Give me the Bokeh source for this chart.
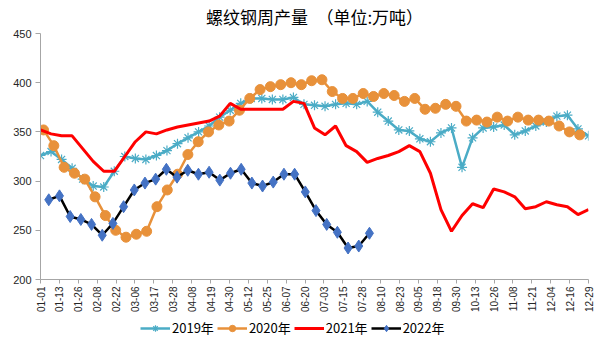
import math
from bokeh.plotting import figure
from bokeh.layouts import column
from bokeh.models import Range1d, FixedTicker, Legend, LegendItem
from bokeh.embed import file_html
from bokeh.resources import INLINE

# ---- data ----
tick_labels = ["01-01", "01-13", "01-26", "02-08", "02-22", "03-06", "03-17", "03-28",
               "04-08", "04-19", "04-30", "05-12", "05-25", "06-07", "06-20", "07-03",
               "07-15", "07-28", "08-10", "08-23", "09-05", "09-18", "09-30", "10-13",
               "10-26", "11-08", "11-21", "12-04", "12-16", "12-29"]
y_ticks = [200, 250, 300, 350, 400, 450]

y2019 = [326, 330, 322, 313, 302, 295, 294, 310, 325, 323, 322, 326, 331, 338, 344,
         350, 356, 365, 372, 379, 384, 384, 383, 383, 385, 378, 377, 376, 378, 379,
         378, 381, 370, 361, 352, 351, 343, 340, 349, 354, 314, 344, 354, 355, 357,
         347, 351, 356, 360, 366, 367, 353, 346]
y2020 = [352, 336, 314, 308, 302, 284, 265, 250, 243, 246, 249, 274, 291, 307, 327,
         340, 350, 357, 361, 372, 384, 393, 396, 398, 400, 398, 402, 403, 391, 384,
         384, 389, 386, 389, 387, 381, 384, 373, 374, 378, 376, 361, 362, 360, 365,
         361, 365, 362, 362, 361, 356, 350, 347]
y2021 = [352, 348, 346, 346, 333, 320, 310, 310, 325, 340, 350, 348, 352, 355, 357,
         359, 361, 366, 379, 373, 373, 373, 373, 373, 381, 379, 354, 347, 356, 336,
         330, 319, 323, 326, 330, 336, 330, 308, 271, 249, 265, 277, 273, 292, 289,
         284, 272, 274, 279, 276, 274, 266, 271]
y2022 = [281, 285, 264, 261, 256, 245, 257, 274, 291, 298, 302, 312, 304, 311, 307,
         309, 301, 308, 312, 298, 295, 299, 307, 307, 289, 270, 256, 248, 232, 234, 247]

series_names = ["2019年", "2020年", "2021年", "2022年"]

# ---- positions (day-of-year mapped onto label axis) ----
DAYS = 364.0
NLAB = len(tick_labels) - 1


def xpos(start_day, step_day, n):
    return [(start_day + step_day * i) / DAYS * NLAB for i in range(n)]


x2019 = xpos(0, 7.0, len(y2019))
x2020 = xpos(2, 6.85, len(y2020))
x2021 = xpos(0, 7.0, len(y2021))
x2022 = xpos(5.5, 7.1, len(y2022))

TEAL = "#4BACC6"
ORANGE = "#E8913A"
RED = "#FF0000"
BLUE = "#4472C4"

# ---- main chart ----
p = figure(frame_width=548, frame_height=246, output_backend="svg", toolbar_location=None,
           x_range=Range1d(0, NLAB), y_range=Range1d(200, 450),
           min_border_left=40, min_border_right=12, min_border_top=31,
           min_border_bottom=36)
p.outline_line_color = None
p.xgrid.visible = False
p.ygrid.visible = False
p.background_fill_color = "white"
p.border_fill_color = "white"

p.title.text = "螺纹钢周产量　（单位:万吨）"
p.title.text_font = "Noto Sans CJK SC"
p.title.text_font_size = "17px"
p.title.text_font_style = "normal"
p.title.text_color = "#000000"
p.title.align = "center"
p.title.offset = -9
p.title.standoff = 6
p.title.vertical_align = "top"

p.xaxis.ticker = FixedTicker(ticks=list(range(len(tick_labels))))
p.xaxis.major_label_overrides = {i: lab for i, lab in enumerate(tick_labels)}
p.xaxis.major_label_orientation = math.pi / 2
p.xaxis.major_label_text_font = "Liberation Sans"
p.xaxis.major_label_text_font_size = "10px"
p.xaxis.major_label_text_color = "#262626"
p.xaxis.major_label_standoff = 3
p.xaxis.minor_tick_line_color = None
p.xaxis.major_tick_in = 0
p.xaxis.major_tick_out = 4
p.xaxis.axis_line_color = "#A6A6A6"
p.xaxis.major_tick_line_color = "#A6A6A6"
p.xaxis.axis_label_standoff = 0

p.yaxis.ticker = FixedTicker(ticks=y_ticks)
p.yaxis.major_label_text_font = "Liberation Sans"
p.yaxis.major_label_text_font_size = "11px"
p.yaxis.major_label_text_color = "#262626"
p.yaxis.major_label_standoff = 4
p.yaxis.minor_tick_line_color = None
p.yaxis.major_tick_in = 0
p.yaxis.major_tick_out = 5
p.yaxis.axis_line_color = "#A6A6A6"
p.yaxis.major_tick_line_color = "#A6A6A6"


def draw(fig, xs, ys):
    r = {}
    r["l19"] = fig.line(xs[0], ys[0], line_color=TEAL, line_width=2.5)
    r["s19"] = fig.scatter(xs[0], ys[0], marker="asterisk", size=10, line_color=TEAL, line_width=1.2)
    r["l20"] = fig.line(xs[1], ys[1], line_color=ORANGE, line_width=2.5)
    r["s20"] = fig.scatter(xs[1], ys[1], marker="circle", size=10, fill_color=ORANGE, line_color=ORANGE)
    r["l21"] = fig.line(xs[2], ys[2], line_color=RED, line_width=3)
    r["l22"] = fig.line(xs[3], ys[3], line_color="#000000", line_width=2.5)
    r["s22"] = fig.scatter(xs[3], ys[3], marker="diamond", size=12, fill_color=BLUE, line_color=BLUE)
    return r


draw(p, [x2019, x2020, x2021, x2022], [y2019, y2020, y2021, y2022])

# ---- legend strip (renderers hold one off-screen point so their glyphs show) ----
q = figure(width=600, height=44, output_backend="svg", toolbar_location=None,
           x_range=Range1d(0, 1), y_range=Range1d(0, 1),
           x_axis_type=None, y_axis_type=None, min_border=0)
q.outline_line_color = None
q.xgrid.visible = False
q.ygrid.visible = False
q.background_fill_color = "white"
q.border_fill_color = "white"
off = [-10.0]
rq = draw(q, [off, off, off, off], [off, off, off, off])

legend = Legend(items=[
    LegendItem(label=series_names[0], renderers=[rq["l19"], rq["s19"]]),
    LegendItem(label=series_names[1], renderers=[rq["l20"], rq["s20"]]),
    LegendItem(label=series_names[2], renderers=[rq["l21"]]),
    LegendItem(label=series_names[3], renderers=[rq["l22"], rq["s22"]]),
], orientation="horizontal", location=(100, 22))
legend.label_text_font = "Noto Sans CJK SC"
legend.label_text_font_size = "13px"
legend.label_text_color = "#000000"
legend.glyph_width = 30
legend.glyph_height = 16
legend.spacing = 3
legend.label_standoff = 2
legend.padding = 0
legend.margin = 0
legend.border_line_alpha = 0
legend.background_fill_alpha = 0
q.add_layout(legend, "center")

layout = column(p, q, spacing=0)
open("out.html", "w").write(file_html(layout, INLINE))
